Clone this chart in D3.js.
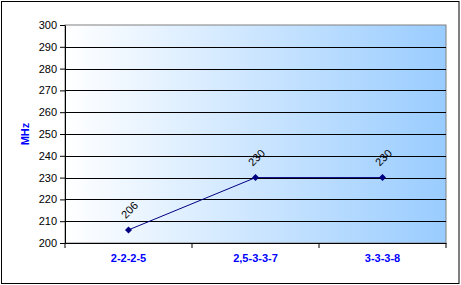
<!DOCTYPE html>
<html>
<head>
<meta charset="utf-8">
<script src="https://cdn.jsdelivr.net/npm/d3@7"></script>
<style>
  body { margin: 0; background: #fff; }
  svg { display: block; font-family: "Liberation Sans", Arial, sans-serif; }
</style>
</head>
<body>
<svg id="chart"></svg>
<script>
const categories = ["2-2-2-5", "2,5-3-3-7", "3-3-3-8"];
const values = [206, 230, 230];
const yTicks = [200, 210, 220, 230, 240, 250, 260, 270, 280, 290, 300];
const yLabel = "MHz";

const width = 461, height = 285;
const margin = {top: 25, right: 15, bottom: 42, left: 65};
const plotW = width - margin.left - margin.right,
      plotH = height - margin.top - margin.bottom;

const svg = d3.select("#chart")
    .attr("width", width)
    .attr("height", height);

// outer frame
svg.append("rect")
    .attr("x", 1.5).attr("y", 1.5)
    .attr("width", width - 3.5).attr("height", height - 3)
    .attr("fill", "#fff")
    .attr("stroke", "#000")
    .attr("stroke-width", 1);

const grad = svg.append("defs").append("linearGradient")
    .attr("id", "bg")
    .attr("x1", "0%").attr("x2", "100%").attr("y1", "0%").attr("y2", "0%");
grad.append("stop").attr("offset", "0%").attr("stop-color", "#ffffff");
grad.append("stop").attr("offset", "100%").attr("stop-color", "#99ccff");

const g = svg.append("g")
    .attr("transform", "translate(" + margin.left + "," + margin.top + ")");

var xScale = d3.scaleBand().domain(categories).range([0, plotW]);
var yScale = d3.scaleLinear().domain([200, 300]).range([plotH, 0]);

//plot background
g.append("rect")
    .attr("width", plotW)
    .attr("height", plotH)
    .attr("fill", "url(#bg)")
    .attr("stroke", "#808080")
    .attr("stroke-width", 1);

//gridlines
g.selectAll(".grid")
    .data(yTicks.filter(function (d) { return d > 200 && d < 300; }))
    .enter().append("line")
    .attr("class", "grid")
    .attr("x1", 0).attr("x2", plotW)
    .attr("y1", function (d) { return Math.round(yScale(d)) + 0.5; })
    .attr("y2", function (d) { return Math.round(yScale(d)) + 0.5; })
    .attr("stroke", "#000");

//y axis
const yAxis = g.append("g")
    .attr("class", "y-axis")
    .call(d3.axisLeft(yScale)
        .tickValues(yTicks)
        .tickSize(5)
        .tickPadding(3)
        .tickSizeOuter(0));
yAxis.select(".domain").attr("stroke", "#000");
yAxis.selectAll("text")
    .attr("font-size", 11)
    .attr("font-family", "Liberation Sans, Arial, sans-serif")
    .attr("fill", "#000");

//x axis
const xAxis = g.append("g")
    .attr("class", "x-axis")
    .attr("transform", "translate(0," + plotH + ")")
    .call(d3.axisBottom(xScale).tickSize(0).tickSizeOuter(0).tickPadding(11));
xAxis.select(".domain").attr("stroke", "#000");
xAxis.selectAll("text")
    .attr("font-size", 11)
    .attr("font-weight", "bold")
    .attr("font-family", "Liberation Sans, Arial, sans-serif")
    .attr("fill", "#0000ff");

//category boundary ticks
xAxis.selectAll(".bound")
    .data(d3.range(categories.length + 1))
    .enter().append("line")
    .attr("class", "bound")
    .attr("x1", function (i) { return i * xScale.step(); })
    .attr("x2", function (i) { return i * xScale.step(); })
    .attr("y1", 0).attr("y2", 5)
    .attr("stroke", "#000");

//y label
svg.append("text")
    .attr("transform", "translate(29," + (margin.top + plotH / 2) + ") rotate(-90)")
    .attr("text-anchor", "middle")
    .attr("font-size", 11)
    .attr("font-weight", "bold")
    .attr("fill", "#0000ff")
    .text(yLabel);

const data = categories.map(function (c, i) { return {category: c, value: values[i]}; });
const cx = function (d) { return xScale(d.category) + xScale.bandwidth() / 2; };

//line
g.append("path")
    .datum(data)
    .attr("fill", "none")
    .attr("stroke", "#000080")
    .attr("stroke-width", 1)
    .attr("d", d3.line().x(cx).y(function (d) { return yScale(d.value); }));

//markers
g.selectAll(".pt")
    .data(data)
    .enter().append("path")
    .attr("class", "pt")
    .attr("transform", function (d) { return "translate(" + cx(d) + "," + yScale(d.value) + ")"; })
    .attr("d", "M0,-3.5L3.5,0L0,3.5L-3.5,0Z")
    .attr("fill", "#000080");

//data labels
g.selectAll(".lbl")
    .data(data)
    .enter().append("text")
    .attr("class", "lbl")
    .attr("transform", function (d) { return "translate(" + (cx(d) + 1) + "," + (yScale(d.value) - 20) + ") rotate(-45)"; })
    .attr("text-anchor", "middle")
    .attr("dy", "0.35em")
    .attr("font-size", 11)
    .attr("fill", "#000")
    .text(function (d) { return d.value; });
</script>
</body>
</html>
